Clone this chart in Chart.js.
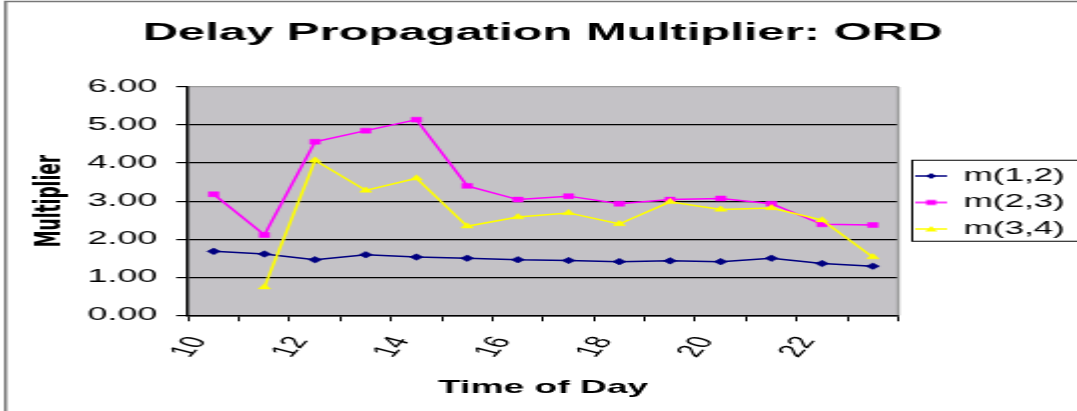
<!DOCTYPE html>
<html>
<head>
<meta charset="utf-8">
<script src="https://cdn.jsdelivr.net/npm/chart.js@4.4.1/dist/chart.umd.min.js"></script>
<style>
  html, body { margin: 0; padding: 0; background: #ffffff; }
  #wrap { width: 1077px; height: 411px; overflow: hidden; }
  #c { display: block; width: 1077px !important; height: 411px !important; }
</style>
</head>
<body>
<div id="wrap"><canvas id="c" width="539" height="411" style="width:1077px;height:411px;display:block"></canvas></div>
<script>
// ---- data ----
const chartTitle = 'Delay Propagation Multiplier: ORD';
const xTitle = 'Time of Day';
const yTitle = 'Multiplier';
const hours = [10.5, 11.5, 12.5, 13.5, 14.5, 15.5, 16.5, 17.5, 18.5, 19.5, 20.5, 21.5, 22.5, 23.5];
const seriesNames = ['m(1,2)', 'm(2,3)', 'm(3,4)'];
const m12 = [1.68, 1.61, 1.46, 1.59, 1.53, 1.50, 1.46, 1.44, 1.41, 1.43, 1.41, 1.50, 1.36, 1.29];
const m23 = [3.18, 2.11, 4.56, 4.85, 5.14, 3.40, 3.04, 3.13, 2.93, 3.04, 3.07, 2.93, 2.39, 2.37];
const m34 = [null, 0.74, 4.07, 3.28, 3.60, 2.34, 2.58, 2.69, 2.40, 2.98, 2.78, 2.82, 2.50, 1.53];
const xTickLabels = [10, 12, 14, 16, 18, 20, 22];
const yTickValues = [0, 1, 2, 3, 4, 5, 6];

// ---- styles ----
const colors = ['#000080', '#ff00ff', '#ffff00'];
const styles = ['rectRot', 'rect', 'triangle'];
const radii = [3.3, 3.5, 3.5];
const plotBg = '#c4c2c6';
const borderGray = '#9a9a9a';
const FONT = "'Liberation Sans', Arial, sans-serif";
const legendShift = -4.5;

function pts(arr) { return hours.map((h, i) => ({ x: h, y: arr[i] })); }

function makeIcon(color, style) {
  const cv = document.createElement('canvas');
  cv.width = 16; cv.height = 10;
  const g = cv.getContext('2d');
  g.strokeStyle = color; g.lineWidth = 1.5;
  g.beginPath(); g.moveTo(0, 5); g.lineTo(16, 5); g.stroke();
  g.fillStyle = color;
  g.beginPath();
  if (style === 'rectRot') { g.moveTo(8, 2); g.lineTo(10.5, 5); g.lineTo(8, 8); g.lineTo(5.5, 5); }
  else if (style === 'rect') { g.rect(5.5, 2.5, 5, 5); }
  else { g.moveTo(8, 2); g.lineTo(11, 7.5); g.lineTo(5, 7.5); }
  g.closePath(); g.fill();
  return cv;
}
const icons = colors.map((c, i) => makeIcon(c, styles[i]));

const decor = {
  id: 'decor',
  afterLayout(chart) {
    const lg = chart.legend;
    if (lg) { lg.top += legendShift; lg.bottom += legendShift; }
  },
  beforeDraw(chart) {
    const { ctx, chartArea: a, width, height } = chart;
    ctx.save();
    ctx.fillStyle = '#ffffff';
    ctx.fillRect(0, 0, width, height);
    ctx.fillStyle = plotBg;
    ctx.fillRect(a.left, a.top, a.right - a.left, a.bottom - a.top);
    ctx.restore();
  },
  beforeDatasetsDraw(chart) {
    const { ctx, chartArea: a } = chart;
    ctx.save();
    ctx.strokeStyle = borderGray; ctx.lineWidth = 1.5;
    ctx.beginPath(); ctx.moveTo(a.right, a.top); ctx.lineTo(a.right, a.bottom); ctx.stroke();
    ctx.restore();
  },
  afterDraw(chart) {
    const { ctx, width, height } = chart;
    ctx.save();
    ctx.strokeStyle = '#777777'; ctx.lineWidth = 1.5;
    ctx.beginPath(); ctx.moveTo(width, 1.5); ctx.lineTo(2.75, 1.5); ctx.lineTo(2.75, height); ctx.stroke();
    const lg = chart.legend;
    if (lg && lg.legendHitBoxes && lg.legendHitBoxes.length) {
      const hb = lg.legendHitBoxes;
      const top = hb[0].top - 7;
      const bottom = hb[hb.length - 1].top + 21;
      const left = lg.left + 7;
      ctx.strokeStyle = '#000000'; ctx.lineWidth = 1;
      ctx.strokeRect(left, top, width + 10 - left, bottom - top);
    }
    ctx.restore();
  }
};

const datasets = [m12, m23, m34].map((arr, i) => ({
  label: seriesNames[i],
  data: pts(arr),
  borderColor: colors[i],
  backgroundColor: colors[i],
  borderWidth: 1.5,
  pointStyle: styles[i],
  pointRadius: radii[i],
  pointHoverRadius: radii[i],
  pointBorderWidth: 0.5,
  pointBorderColor: colors[i],
  pointBackgroundColor: colors[i],
  tension: 0,
  spanGaps: false,
  order: 2 - i
}));

new Chart(document.getElementById('c'), {
  type: 'line',
  data: { datasets },
  options: {
    responsive: false,
    animation: false,
    devicePixelRatio: 1,
    layout: { padding: { left: 4, right: 0, top: 3, bottom: 0 } },
    plugins: {
      tooltip: { enabled: false },
      title: {
        display: true,
        text: chartTitle,
        color: '#000000',
        font: { family: FONT, size: 24.5, weight: 'bold' },
        padding: { top: 16, bottom: 38.5 }
      },
      legend: {
        position: 'right',
        maxWidth: 89.5,
        labels: {
          color: '#000000',
          font: { family: FONT, size: 17.5 },
          usePointStyle: true,
          pointStyleWidth: 15,
          boxHeight: 17.5,
          padding: 9,
          generateLabels(chart) {
            const items = Chart.defaults.plugins.legend.labels.generateLabels(chart);
            items.sort((a, b) => a.datasetIndex - b.datasetIndex);
            items.forEach(it => { it.pointStyle = icons[it.datasetIndex]; });
            return items;
          }
        }
      }
    },
    scales: {
      x: {
        type: 'linear',
        min: 10,
        max: 24,
        border: { display: true, color: '#000000', width: 1.5 },
        grid: { display: true, drawOnChartArea: false, drawTicks: true, tickLength: 6, tickColor: '#000000', tickWidth: 1 },
        ticks: {
          stepSize: 1,
          autoSkip: false,
          minRotation: 63.4,
          maxRotation: 63.4,
          padding: 12,
          labelOffset: 5,
          color: '#000000',
          font: { family: FONT, size: 18 },
          callback: (v) => xTickLabels.includes(v) ? String(v) : ''
        },
        title: {
          display: true,
          text: xTitle,
          color: '#000000',
          font: { family: FONT, size: 18.6, weight: 'bold' },
          padding: { top: 4, bottom: 11.8 }
        }
      },
      y: {
        min: 0,
        max: 6,
        border: { display: true, color: '#000000', width: 1.5 },
        grid: {
          display: true,
          drawOnChartArea: true,
          drawTicks: true,
          tickLength: 6,
          tickColor: '#000000',
          lineWidth: 1.2,
          color: (c) => (c.tick && c.tick.value === 6) ? borderGray : '#000000'
        },
        afterBuildTicks(scale) { scale.ticks = yTickValues.map(v => ({ value: v })); },
        ticks: {
          padding: 9.5,
          color: '#000000',
          font: { family: FONT, size: 18 },
          callback: (v) => Number(v).toFixed(2)
        },
        title: {
          display: true,
          text: yTitle,
          color: '#000000',
          font: { family: "'DejaVu Sans', sans-serif", size: 17, weight: 'bold' },
          padding: { top: 11.3, bottom: -1.5 }
        }
      }
    }
  },
  plugins: [decor]
});
</script>
</body>
</html>
